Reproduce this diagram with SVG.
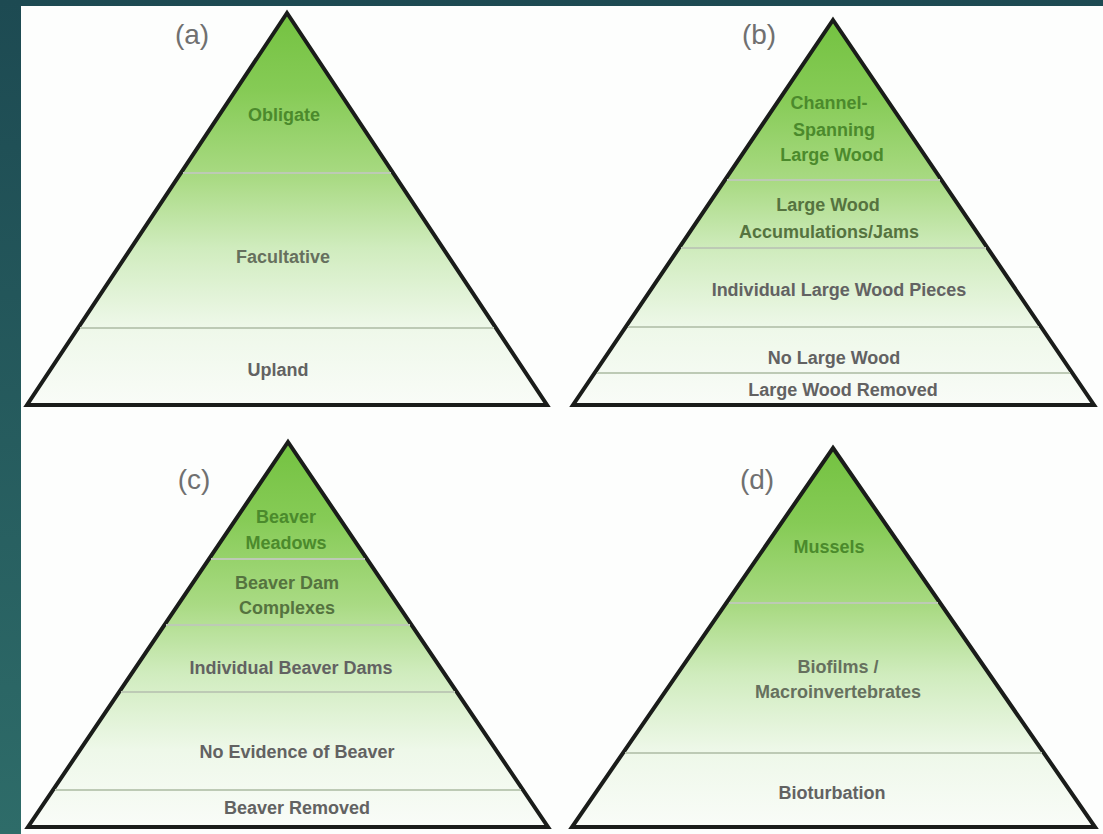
<svg xmlns="http://www.w3.org/2000/svg" width="1103" height="834" viewBox="0 0 1103 834">
  <defs>
    <linearGradient id="bg" x1="0" y1="0" x2="0" y2="1">
      <stop offset="0" stop-color="#1d4a52"/>
      <stop offset="1" stop-color="#2e6c69"/>
    </linearGradient>
    <linearGradient id="pyr" x1="0" y1="0" x2="0" y2="1">
      <stop offset="0" stop-color="#74c241"/>
      <stop offset="0.2" stop-color="#86cb56"/>
      <stop offset="0.42" stop-color="#a9da83"/>
      <stop offset="0.6" stop-color="#d0ecbe"/>
      <stop offset="0.8" stop-color="#eef8e9"/>
      <stop offset="1" stop-color="#f9fcf8"/>
    </linearGradient>
  </defs>
  <style>
    .tri { fill: url(#pyr); stroke: #1a1c1a; stroke-width: 4; stroke-linejoin: miter; }
    .div { stroke: #bdcab5; stroke-width: 2; fill: none; }
    .lab { font-family: "Liberation Sans", Arial, sans-serif; font-size: 18px; font-weight: bold; text-anchor: middle; }
    .g { fill: #4b8a2c; }
    .gg { fill: #55733f; }
    .gk { fill: #66705e; }
    .k { fill: #626262; }
    .tag { font-family: "Liberation Sans", Arial, sans-serif; font-size: 28px; fill: #707070; text-anchor: middle; }
  </style>

  <rect x="0" y="0" width="1103" height="834" fill="url(#bg)"/>
  <rect x="21" y="6" width="1082" height="828" fill="#fdfefd"/>

  <g id="pyramid-a">
    <polygon class="tri" points="287,13 547,405 27,405"/>
    <line class="div" x1="183" y1="173" x2="391" y2="173"/>
    <line class="div" x1="80" y1="328" x2="494" y2="328"/>
    <text class="tag" x="192" y="44">(a)</text>
    <text class="lab g" x="284" y="121">Obligate</text>
    <text class="lab gk" x="283" y="263">Facultative</text>
    <text class="lab k" x="278" y="376">Upland</text>
  </g>

  <g id="pyramid-b">
    <polygon class="tri" points="833,20 1094,405 573,405"/>
    <line class="div" x1="727" y1="180" x2="940" y2="180"/>
    <line class="div" x1="681" y1="248" x2="986" y2="248"/>
    <line class="div" x1="628" y1="327" x2="1039" y2="327"/>
    <line class="div" x1="597" y1="373" x2="1070" y2="373"/>
    <text class="tag" x="759" y="44">(b)</text>
    <text class="lab g" x="829" y="109">Channel-</text>
    <text class="lab g" x="834" y="136">Spanning</text>
    <text class="lab g" x="832" y="161">Large Wood</text>
    <text class="lab gg" x="828" y="211">Large Wood</text>
    <text class="lab gg" x="829" y="238">Accumulations/Jams</text>
    <text class="lab k" x="839" y="296">Individual Large Wood Pieces</text>
    <text class="lab k" x="834" y="364">No Large Wood</text>
    <text class="lab k" x="843" y="396">Large Wood Removed</text>
  </g>

  <g id="pyramid-c">
    <polygon class="tri" points="288,442 548,827 28,827"/>
    <line class="div" x1="211" y1="559" x2="365" y2="559"/>
    <line class="div" x1="166" y1="625" x2="410" y2="625"/>
    <line class="div" x1="121" y1="692" x2="455" y2="692"/>
    <line class="div" x1="55" y1="790" x2="521" y2="790"/>
    <text class="tag" x="194" y="489">(c)</text>
    <text class="lab g" x="286" y="523">Beaver</text>
    <text class="lab g" x="286" y="549">Meadows</text>
    <text class="lab gg" x="287" y="589">Beaver Dam</text>
    <text class="lab gg" x="287" y="614">Complexes</text>
    <text class="lab k" x="291" y="674">Individual Beaver Dams</text>
    <text class="lab k" x="297" y="758">No Evidence of Beaver</text>
    <text class="lab k" x="297" y="814">Beaver Removed</text>
  </g>

  <g id="pyramid-d">
    <polygon class="tri" points="833,448 1095,827 572,827"/>
    <line class="div" x1="729" y1="603" x2="938" y2="603"/>
    <line class="div" x1="625" y1="753" x2="1042" y2="753"/>
    <text class="tag" x="757" y="489">(d)</text>
    <text class="lab g" x="829" y="553">Mussels</text>
    <text class="lab gk" x="838" y="673">Biofilms /</text>
    <text class="lab gk" x="838" y="698">Macroinvertebrates</text>
    <text class="lab k" x="832" y="799">Bioturbation</text>
  </g>

  <g id="connectors"></g>
</svg>
